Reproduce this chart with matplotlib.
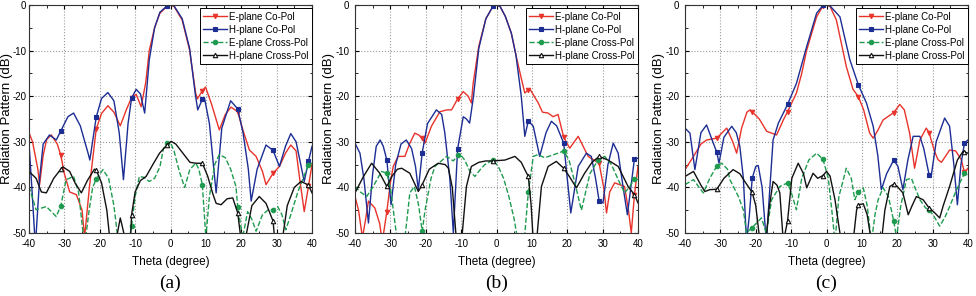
import numpy as np
import matplotlib
matplotlib.use('Agg')
import matplotlib.pyplot as plt
from matplotlib.ticker import MultipleLocator, FuncFormatter

plt.rcParams['font.family'] = ['Liberation Sans', 'DejaVu Sans']

# marker positions (degree)
mark_th = [-31, -21, -11, -1, 9, 19, 29, 39]

# ---------- panel (a) ----------
a_eco_th = [-40, -39, -37.5, -37, -36, -35, -33.7, -32, -31, -30, -28.5, -26.6, -25, -24.3, -22.9, -21, -19.5, -17.7, -16, -14.2, -12.5, -11, -9.7, -8.3, -7, -6, -4.5, -3, -1, 0, 1, 3.3, 5.4, 7.1, 7.6, 9, 9.9, 11.5, 13.8, 15.5, 17.1, 19, 20.5, 22.3, 24.2, 26, 27, 29, 30.8, 32.5, 34, 35.5, 36.5, 37.8, 39, 40]
a_eco_db = [-28, -30, -36, -39.4, -33, -29.5, -28.5, -30.5, -33, -37, -41, -41.6, -45, -51, -39.8, -27.2, -23.8, -22.1, -23.5, -26.5, -23, -20.3, -19.6, -22.3, -17, -10, -5, -1.8, -0.3, 0, -0.3, -3.3, -9.9, -19.3, -20.6, -18.8, -18, -21.5, -27.4, -24, -22.4, -23.4, -27.5, -31.8, -33.2, -36.5, -39.4, -36.9, -35.4, -32.5, -30.7, -32, -38, -45.3, -39.8, -35]

a_hco_th = [-40, -39.2, -38.2, -37, -36, -34.2, -32.3, -31, -29, -27.4, -25.5, -23.3, -22.8, -21, -19.5, -17.7, -16, -14.5, -13.3, -12, -11, -9.7, -8.5, -7.3, -6, -4.5, -3, -1, 0, 1, 3.3, 5.4, 7, 7.7, 9, 9.6, 11, 12.9, 14.5, 17, 19, 20.5, 22, 22.8, 24.5, 27, 29, 30.8, 32.5, 34, 35.5, 37.8, 39, 40]
a_hco_db = [-30.3, -40, -53, -38, -30.5, -28.5, -29.6, -27.6, -24.5, -23.7, -26.5, -32.5, -34, -24.6, -20.5, -19.2, -21, -28, -38.3, -26, -20.4, -18.5, -19.5, -23.7, -12, -5, -1.6, -0.2, 0, -0.2, -3, -9.5, -19.5, -23, -20.7, -20.4, -26, -41.2, -27, -21, -22.8, -28, -36, -43, -36, -30.7, -31.9, -35.4, -31, -28.2, -30, -38.7, -34.3, -31]

a_ex_th = [-40, -38, -35.1, -32.3, -31, -29.5, -27.4, -26, -25, -24.3, -23, -22, -21, -19.1, -17.5, -16, -14.9, -13, -11.8, -11, -10, -8.8, -7.5, -6, -4.5, -3, -2, -1, 0, 1, 2.5, 4, 5.5, 7.2, 8, 9, 10, 11, 12.5, 13.8, 15.5, 17, 18.5, 19, 20.4, 21.8, 23, 24.2, 26, 27.5, 29, 30.3, 31.5, 32.6, 34, 36, 38, 39, 40]
a_ex_db = [-39.8, -44.9, -44.2, -46.4, -44, -38.3, -37.6, -41, -48, -53, -45, -40, -38.2, -36.1, -38, -44, -51, -55, -52, -48.5, -42, -37.6, -37.8, -38.7, -38, -35.5, -31.5, -30.3, -30.2, -32, -36.5, -40, -36, -34.7, -36, -39.4, -51, -42, -35, -32.8, -33.5, -36, -39.8, -44.2, -51, -45.3, -47, -49.6, -46, -45, -44.9, -44.2, -46, -49.3, -46, -41, -37, -35, -34.7]

a_hx_th = [-40, -38, -36.5, -35.1, -33, -31, -30.4, -28.5, -27, -25.2, -23.5, -21.5, -21, -19.5, -18, -17.2, -16, -15, -14.2, -13.2, -12.3, -11.3, -11, -10, -8.5, -6.9, -5, -3.1, -1, 0.2, 1.5, 3.5, 5.5, 7.2, 9, 10.5, 12, 12.9, 14.3, 16, 17.6, 19, 19.7, 20.3, 21.5, 23, 25.1, 27, 29, 29.4, 30.5, 31.7, 33, 35, 36.9, 38.5, 39, 40]
a_hx_db = [-36.5, -38, -41, -41.2, -38, -36, -35.5, -36.5, -39, -41.2, -38.5, -36, -36.2, -39, -45, -51, -55, -50, -46.7, -50, -55, -51, -46, -41, -38.5, -37.6, -35, -32.5, -30.7, -29.9, -30.5, -32.5, -34.5, -34.7, -34.7, -37.5, -41.5, -43.5, -43.8, -42.5, -42.3, -45.6, -50, -55, -50, -44, -42, -43.5, -47.4, -51, -55, -51, -44, -40, -38.7, -39.3, -39.5, -41.2]

# ---------- panel (b) ----------
b_eco_th = [-40, -39, -37.9, -37, -36.2, -35, -34.4, -33, -32.3, -31, -30, -29.2, -27.8, -25.9, -24.5, -23.1, -22, -21, -20.2, -18.4, -16, -14, -12.7, -11, -9.4, -8, -7.1, -6.6, -5, -3, -1, 0, 1, 2.5, 4.2, 5.5, 7.1, 8, 9, 9.5, 11.8, 13, 14.6, 16, 17.4, 19, 20.7, 23.1, 25.9, 29, 30.3, 31.1, 32, 33.4, 36.2, 37.3, 38.1, 39, 40]
b_eco_db = [-42, -45, -51, -47, -43, -44, -44.5, -48, -52, -45.3, -39, -35.4, -33.2, -33.2, -30.3, -28.1, -28.5, -29.2, -30.3, -26.6, -23.4, -23, -23, -20.6, -19, -20, -21.5, -17.2, -9, -3, -0.3, 0, -0.3, -2.5, -6.2, -11, -16.4, -19.3, -18.6, -18.5, -21.5, -23.5, -23.7, -24.5, -24, -29, -31.4, -28.8, -33.2, -34.7, -40, -45.6, -41, -39, -39.8, -45, -50, -41.6, -35.4]

b_hco_th = [-40, -38.6, -37.5, -36.2, -35, -34, -32.9, -32, -31, -29.8, -28.5, -27, -25.5, -24, -22.9, -22.1, -21, -19.5, -17, -15.5, -14.6, -13.2, -12.2, -11, -9.4, -8.5, -7.6, -6.5, -5, -3, -1, 0, 1, 2.5, 4.2, 5.5, 7, 8, 9, 10.4, 12.2, 14, 15.5, 17, 19, 20, 21, 23.1, 25.4, 26.8, 28, 29, 30.1, 31.5, 33, 34.4, 35.8, 37, 39, 40]
b_hco_db = [-30.3, -32.5, -38, -47.8, -37, -31, -29.6, -31, -34, -43.8, -35, -30.5, -29.6, -31.5, -35.4, -40.5, -32.4, -26, -23, -24, -28.1, -38, -50, -31.6, -24.5, -25, -25.9, -20, -9.5, -3, -0.3, 0, -0.3, -2.5, -6.2, -11, -20, -28.8, -25.4, -26.6, -33.2, -28, -25.5, -26.5, -30.3, -38, -45.6, -35.4, -32.5, -33.2, -38, -42.9, -43.4, -35, -30.3, -32.5, -40, -46, -33.7, -33.6]

b_ex_th = [-40, -38.5, -36.7, -35, -32.5, -31, -30, -29, -28, -26.5, -25.3, -24.5, -23.2, -22, -21, -20.2, -18.5, -17.4, -14.1, -12.2, -11, -10.4, -9, -7.5, -6.1, -4.5, -3.3, -1, 0.5, 2, 3.5, 5, 6.1, 7, 7.8, 9, 10.4, 11.8, 13.6, 15.5, 17.4, 19, 20.5, 22, 24, 25.2, 26.4, 28.7, 30.6, 32.5, 34.4, 36.2, 37.5, 39, 40]
b_ex_db = [-39.8, -41, -42, -40, -36.5, -36.9, -40, -46, -52, -55, -47, -41.2, -39.8, -44, -49.6, -45, -38, -35.4, -33.2, -34.2, -33, -32.6, -34, -36.5, -37.6, -36, -35, -34, -35.4, -38, -42, -47, -52, -55, -52, -41, -33.2, -32.8, -33.5, -33, -32.5, -32, -34, -38.5, -45, -41, -37, -34, -33.2, -35, -38.3, -41.2, -40, -38.2, -38.3]

b_hx_th = [-40, -37.6, -35.3, -33, -31, -29.5, -28, -26.8, -24.5, -22.1, -21, -19, -16.5, -14.5, -13.6, -12.5, -11.3, -10.5, -9.9, -8.5, -7.1, -5, -3, -1, 2.4, 5.2, 7, 8, 9, 9.8, 10.4, 11.3, 12.7, 14.6, 16.9, 19, 20.5, 22.6, 24.9, 27, 29, 31.5, 34.4, 37.2, 39, 40]
b_hx_db = [-41.2, -37.6, -34.7, -36.9, -39.8, -37.5, -36, -35.8, -36.9, -40.9, -39.4, -36, -34.7, -35, -35.8, -40, -52, -55, -52, -39.8, -35.4, -34.5, -34.2, -34.2, -34, -33.2, -34.5, -36.1, -37.6, -44, -52, -52, -39.8, -35.4, -34.3, -35.8, -37.5, -40.1, -36.9, -34.5, -33.2, -34, -35.4, -39.8, -41.6, -43.4]

# ---------- panel (c) ----------
c_eco_th = [-40, -37.6, -35.5, -33.9, -31, -29.5, -28.2, -26.5, -25.4, -24, -22.5, -21.6, -21, -19, -16.9, -14.1, -12.2, -11, -8.5, -7, -5.6, -2.8, -1, 0, 1, 2.8, 5.6, 7.5, 9, 10.5, 12.2, 13.2, 14.5, 16, 19, 20.7, 22, 23.5, 24.9, 26.4, 28.2, 29, 30.5, 31.5, 32.5, 34.8, 36.5, 38.1, 39, 40]
c_eco_db = [-36.1, -33.2, -30.5, -29.6, -29.2, -28, -27, -30, -32.5, -27, -23.5, -23, -23.4, -25, -27.7, -28.5, -25.2, -23.4, -19.3, -15, -9.9, -2.6, -0.2, 0, -0.3, -3.3, -13.5, -18.5, -20.1, -23, -28.1, -29.2, -27.5, -25.2, -23.6, -21.8, -23, -28.1, -35.8, -29.6, -27, -28, -32, -33.9, -34.5, -31.8, -32, -33.9, -36.7, -35.8]

c_hco_th = [-40, -38.6, -37.2, -35.5, -33.9, -32, -31, -30.4, -29, -26.8, -25.5, -24.5, -23.5, -22.6, -21.8, -21, -20, -19.3, -18.2, -17, -16, -15.1, -13.6, -11, -8.5, -5.6, -2.8, -1, 0, 1, 3.8, 6.6, 9, 11.3, 13.2, 14.5, 15.5, 17, 19, 20.2, 21.6, 23, 24.5, 26.4, 27.5, 29, 29.6, 31, 33.4, 34.8, 36, 37, 38, 39, 40]
c_hco_db = [-27, -28.1, -36.1, -28, -26.3, -30.3, -32.3, -34.7, -29, -26.6, -28, -31, -38, -52, -46, -38, -35.4, -35.2, -40, -52, -40, -29.6, -25.9, -21.8, -17.2, -9.1, -1.8, -0.1, 0, -0.2, -2.6, -12, -17.5, -21.5, -26.6, -33, -40.5, -37, -34, -35.4, -40.5, -34, -28.8, -28.8, -31.5, -37.2, -37.5, -30, -24.8, -26.6, -35, -43.8, -35, -30.3, -29.6]

c_ex_th = [-40, -37.6, -36, -34.8, -33, -31, -29.6, -28, -27.3, -24.9, -23.5, -22.6, -21, -18.4, -17, -15.5, -13.2, -11, -10, -8.5, -7, -5, -2.8, -1, 0.5, 1.5, 2.4, 3.5, 5.6, 7, 8, 9, 10.4, 11.5, 12.7, 13.7, 14.6, 16, 17.5, 19, 19.8, 21, 22.6, 24, 25, 26.4, 28, 29, 30.5, 32, 33.5, 34.8, 36.5, 38, 39, 40]
c_ex_db = [-39.4, -38.3, -40, -41.2, -38, -35.3, -34.7, -36, -38.3, -42, -45, -50, -48.8, -46.7, -50, -42.7, -39.8, -39, -41, -44.9, -38, -34, -32.5, -33.8, -38, -45, -52, -42, -35.8, -38, -42.7, -41, -40.1, -44, -52, -46, -42.7, -40.1, -42, -47.4, -51, -44, -38.3, -38, -40, -42.7, -44.5, -44.9, -46.5, -48.5, -46.5, -44.2, -41, -38.5, -36.9, -37.2]

c_hx_th = [-40, -37.6, -35.5, -34.4, -33, -31, -29, -26.4, -24.5, -23.1, -21, -20, -18.8, -17.5, -16.3, -15.1, -14, -13.2, -12.2, -11, -9.8, -8, -6.5, -5.6, -3.8, -2.5, -1, 0, 1, 2.4, 3.4, 4.2, 6, 7.5, 8.5, 9, 10.4, 11.5, 12.7, 14, 15.5, 16.5, 17.9, 19, 20, 21.6, 23.1, 24.2, 25.4, 27.3, 29, 30.5, 32, 33, 34.8, 37, 38.6, 39, 40]
c_hx_db = [-37.6, -36.5, -39.5, -40.9, -40.5, -40.4, -38, -36.1, -37, -38.7, -41.1, -44, -52, -55, -45, -38.7, -39.5, -41.2, -52, -47.3, -38, -34.7, -37, -40.1, -36.9, -38, -37.4, -36.5, -37.5, -42.7, -48, -52, -55, -52, -45, -43.8, -43.6, -46, -52, -55, -52, -45, -39.8, -39.3, -39.8, -41.2, -46, -44, -42, -42.7, -44.5, -45.5, -46.7, -44, -39.8, -34, -32.1, -32.2, -32.5]

panels = [
    ('(a)', a_eco_th, a_eco_db, a_hco_th, a_hco_db, a_ex_th, a_ex_db, a_hx_th, a_hx_db),
    ('(b)', b_eco_th, b_eco_db, b_hco_th, b_hco_db, b_ex_th, b_ex_db, b_hx_th, b_hx_db),
    ('(c)', c_eco_th, c_eco_db, c_hco_th, c_hco_db, c_ex_th, c_ex_db, c_hx_th, c_hx_db),
]

names = ['E-plane Co-Pol', 'H-plane Co-Pol', 'E-plane Cross-Pol', 'H-plane Cross-Pol']
colors = ['#e8332b', '#1c2d94', '#1f9b4f', '#111111']
styles = ['-', '-', '--', '-']
markers = ['v', 's', 'o', '^']
mfaces = ['#e8332b', '#1c2d94', '#1f9b4f', 'white']


def mark_idx(th):
    th = np.array(th)
    return [int(np.argmin(np.abs(th - m))) for m in mark_th]


fig = plt.figure(figsize=(9.76, 2.96), dpi=100)
lefts = [29, 355, 685]
ylab_x = [-16, -20, -20]   # label right edge, px left of the axes
ytick_pad = [2, 4, 4]
fmt = FuncFormatter(lambda v, pos: '%d' % v if v >= 0 else '-%d' % -v)

for left, lx, tp, p in zip(lefts, ylab_x, ytick_pad, panels):
    ax = fig.add_axes([left / 976, 63 / 296, 283 / 976, 228 / 296])
    tag = p[0]
    for k in range(4):
        th = p[1 + 2 * k]
        db = p[2 + 2 * k]
        ax.plot(th, db, color=colors[k], ls=styles[k], lw=1.0,
                marker=markers[k], ms=3.2, mfc=mfaces[k], mec=colors[k],
                mew=0.8, markevery=mark_idx(th), label=names[k])
    ax.set_xlim(-40, 40)
    ax.set_ylim(-50, 0)
    ax.xaxis.set_major_locator(MultipleLocator(10))
    ax.xaxis.set_minor_locator(MultipleLocator(5))
    ax.yaxis.set_major_locator(MultipleLocator(10))
    ax.yaxis.set_minor_locator(MultipleLocator(5))
    ax.xaxis.set_major_formatter(fmt)
    ax.yaxis.set_major_formatter(fmt)
    ax.tick_params(which='both', direction='in', top=True, right=True,
                   labelsize=7)
    ax.tick_params(axis='x', pad=4)
    ax.tick_params(axis='y', pad=tp)
    ax.tick_params(which='major', length=3)
    ax.tick_params(which='minor', length=1.8)
    ax.grid(True, which='major', color='#9a9a9a', ls=':', lw=0.8)
    for s in ax.spines.values():
        s.set_linewidth(0.8)
        s.set_color('#333333')
    ax.set_xlabel('Theta (degree)', fontsize=8.5, labelpad=5)
    ax.set_ylabel('Radiation Pattern (dB)', fontsize=9.5)
    ax.yaxis.set_label_coords(lx / 283, 0.5)
    leg = ax.legend(loc='upper right', bbox_to_anchor=(1.0, 0.985),
                    fontsize=7, fancybox=False, edgecolor='black',
                    framealpha=1, borderpad=0.35, labelspacing=0.3,
                    handlelength=2.4, handletextpad=0.25, borderaxespad=0)
    leg.get_frame().set_linewidth(0.7)
    fig.text((left + 141.5) / 976, 1 - 283 / 296, tag, ha='center', va='center',
             fontsize=14, family=['Liberation Serif', 'DejaVu Serif'])

fig.savefig('out.png', dpi=100)
